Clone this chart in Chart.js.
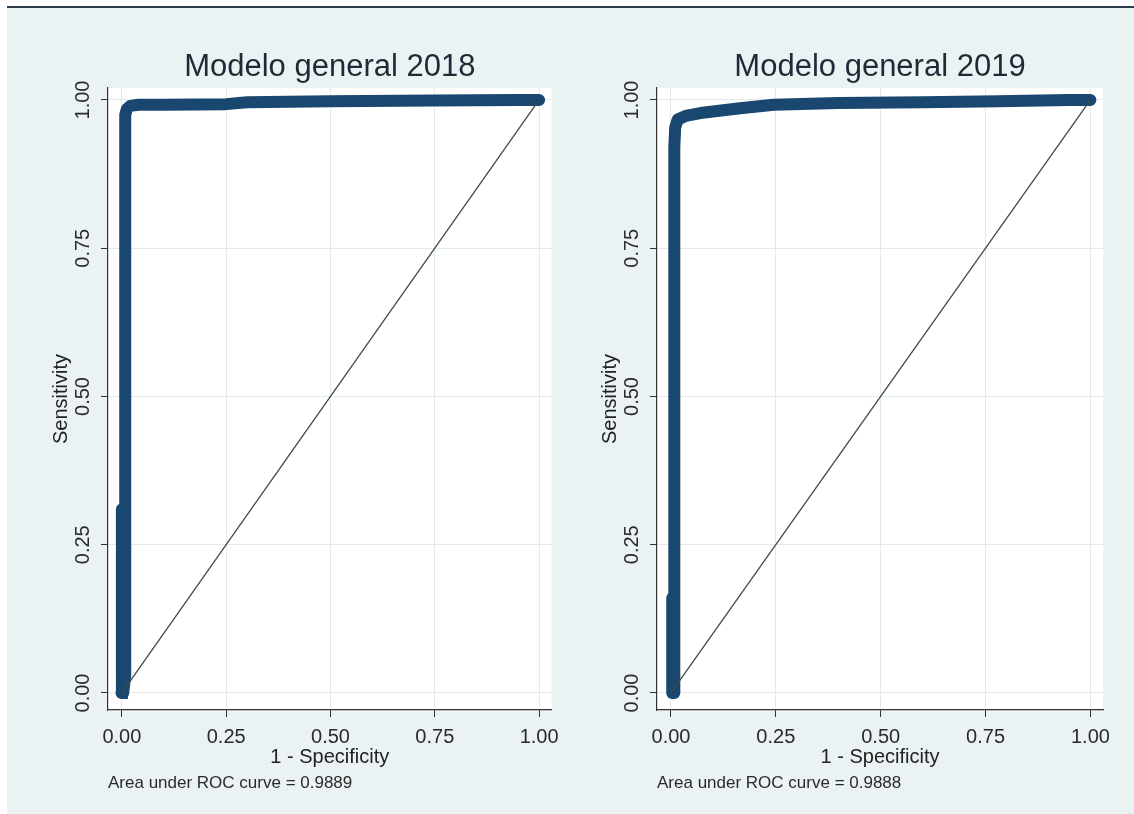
<!DOCTYPE html>
<html>
<head>
<meta charset="utf-8">
<script src="https://cdn.jsdelivr.net/npm/chart.js@4"></script>
<style>
  body { margin: 0; background: #fff; width: 1134px; height: 814px; overflow: hidden; }
  #frame { position: absolute; left: 7px; top: 6px; right: 0; bottom: 0; background: #eaf2f3; border-top: 2px solid #2c3b4a; }
  .panel { position: absolute; top: 8px; height: 806px; }
</style>
</head>
<body>
<div id="frame"></div>
<div class="panel" style="left:0;width:567px"><canvas id="roc-2018" width="567" height="806"></canvas></div>
<div class="panel" style="left:557px;width:577px"><canvas id="roc-2019" width="577" height="806"></canvas></div>
<script>
// ejes y etiquetas
const tickValues = [0, 0.25, 0.5, 0.75, 1];
const titles = ['Modelo general 2018', 'Modelo general 2019'];
const aucValues = ['0.9889', '0.9888'];

// curva ROC 2018 (1 - especificidad, sensibilidad)
const roc2018X = [0.003, 0.008, 0.008, 0.012, 0.02, 0.04, 0.10, 0.25, 0.30, 0.50, 0.75, 0.95, 1.0];
const roc2018Y = [0.0, 0.03, 0.975, 0.985, 0.990, 0.992, 0.992, 0.993, 0.996, 0.998, 0.999, 1.0, 1.0];
// tramo inferior mas ancho de 2018
const low2018X = [-0.001, 0.0];
const low2018Y = [0.0, 0.31];

// curva ROC 2019
const roc2019X = [0.008, 0.008, 0.010, 0.016, 0.035, 0.07, 0.165, 0.245, 0.40, 0.60, 0.78, 0.95, 1.0];
const roc2019Y = [0.0, 0.92, 0.953, 0.967, 0.973, 0.978, 0.986, 0.992, 0.995, 0.996, 0.998, 1.0, 1.0];
// tramo inferior mas ancho de 2019
const low2019X = [0.003, 0.003];
const low2019Y = [0.0, 0.16];

// referencia diagonal
const diagonalX = [0, 1];
const diagonalY = [0, 1];

const FONT = "'Liberation Sans', Arial, sans-serif";
const NAVY = '#1a476f';

const toPoints = (xs, ys) => xs.map((x, i) => ({ x: x, y: ys[i] }));

const plotBg = {
    id: 'plotBg',
    beforeDraw(chart) {
        const { ctx, chartArea: a } = chart;
        ctx.save();
        ctx.fillStyle = '#ffffff';
        ctx.fillRect(a.left, a.top, a.width, a.height);
        ctx.restore();
    }
};

function axisOptions(min, max, titleText, isY) {
    const opts = {
        type: 'linear',
        min: min,
        max: max,
        afterBuildTicks: s => { s.ticks = tickValues.map(v => ({ value: v })); },
        ticks: {
            callback: v => Number(v).toFixed(2),
            font: { family: FONT, size: 20 },
            color: '#2a2a2a'
        },
        grid: { color: '#e3eaec', lineWidth: 1, tickLength: 7, tickColor: '#333', drawTicks: true },
        border: { display: true, color: '#333', width: 1.2 },
        title: { display: true, text: titleText, color: '#222', font: { family: FONT, size: 20, lineHeight: 1.2 } }
    };
    if (isY) {
        opts.afterFit = s => { s.width = 100; };
        opts.ticks.minRotation = 90;
        opts.ticks.maxRotation = 90;
        opts.ticks.crossAlign = 'center';
        opts.ticks.padding = -2;
        opts.title.padding = { top: 41.5, bottom: 0 };
    } else {
        opts.afterFit = s => { s.height = 60; };
        opts.ticks.maxRotation = 0;
        opts.ticks.padding = 8;
        opts.title.padding = { top: 0, bottom: 1 };
    }
    return opts;
}

function renderRoc(canvasId, title, auc, curve, lowSegment, padLeft, padRight) {
    const datasets = [
        { data: toPoints(diagonalX, diagonalY), showLine: true, borderColor: '#3f4b46', borderWidth: 1.3, pointRadius: 0 },
        { data: curve, showLine: true, borderColor: NAVY, borderWidth: 12, borderCapStyle: 'round', borderJoinStyle: 'round', pointRadius: 0 },
        { data: lowSegment, showLine: true, borderColor: NAVY, borderWidth: 12, borderCapStyle: 'round', pointRadius: 0 }
    ];
    new Chart(document.getElementById(canvasId), {
        type: 'scatter',
        data: { datasets: datasets },
        options: {
            responsive: false,
            animation: false,
            layout: { padding: { left: padLeft, right: padRight, top: 0, bottom: 20 } },
            scales: {
                x: axisOptions(-0.0333, 1.03, '1 - Specificity', false),
                y: axisOptions(-0.0287, 1.0202, 'Sensitivity', true)
            },
            plugins: {
                legend: { display: false },
                tooltip: { enabled: false },
                title: {
                    display: true, text: title, fullSize: false, color: '#1f2a36',
                    font: { family: FONT, size: 31, weight: 'normal', lineHeight: 1.2 },
                    padding: { top: 40.8, bottom: 2 }
                },
                subtitle: {
                    display: true, text: 'Area under ROC curve = ' + auc, position: 'bottom', align: 'start', fullSize: false,
                    color: '#2a2a2a', font: { family: FONT, size: 17, lineHeight: 1.2 },
                    padding: { top: 3.6, bottom: 0 }
                }
            }
        },
        plugins: [plotBg]
    });
}

renderRoc('roc-2018', titles[0], aucValues[0], toPoints(roc2018X, roc2018Y), toPoints(low2018X, low2018Y), 8, 14);
renderRoc('roc-2019', titles[1], aucValues[1], toPoints(roc2019X, roc2019Y), toPoints(low2019X, low2019Y), 0, 31);
</script>
</body>
</html>
